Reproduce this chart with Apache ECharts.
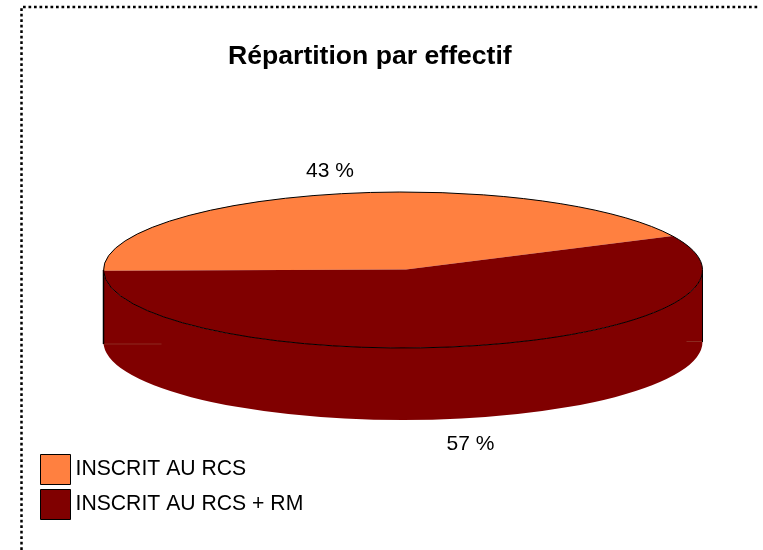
<!DOCTYPE html>
<html>
<head>
<meta charset="utf-8">
<style>html,body{margin:0;padding:0;background:#fff}#c{width:763px;height:550px}</style>
<script src="https://cdn.jsdelivr.net/npm/echarts@6/dist/echarts.min.js"></script>
</head>
<body>
<div id="c"></div>
<script>
const titleText = 'Répartition par effectif';
const categories = ['INSCRIT AU RCS', 'INSCRIT AU RCS + RM'];
const shares = [43, 57];
const colors = ['#FF8040', '#800000'];

// Drawing layout of the tilted pie
const CX = 403, CY = 270, RX = 299.5, RY = 78, DEPTH = 72, START_DEG = 180.6;
const APEX = [406, 269.5];
const LABEL_POS = [[330, 171.5], [470.5, 444.5]];
const FONT = '"Liberation Sans", Arial, sans-serif';
const total = shares.reduce((a, b) => a + b, 0);

const pt = (deg, dy = 0) => {
  const t = deg * Math.PI / 180;
  return [CX + RX * Math.cos(t), CY - RY * Math.sin(t) + dy];
};
// clockwise elliptical arc on screen, from angle a down to angle b
const arcTo = (b, a, dy = 0) => {
  const p = pt(b, dy);
  return `A${RX} ${RY} 0 ${a - b > 180 ? 1 : 0} 1 ${p[0]} ${p[1]}`;
};

function renderSlice(idx) {
  return function (params, api) {
    const value = api.value(0);
    let before = 0;
    for (let i = 0; i < idx; i++) before += shares[i];
    const a0 = START_DEG - before / total * 360;
    const a1 = a0 - value / total * 360;
    const fill = colors[idx];
    const children = [];

    // front wall: spanned by the slice that covers the front half of the rim
    if (a0 < 180 && a1 < 0) {
      const wallStart = Math.min(a0, 0), wallEnd = -180;
      const s = pt(wallStart), e = pt(wallEnd);
      const d = `M${s[0]} ${s[1]}` + arcTo(wallEnd, wallStart) +
        `L${e[0]} ${e[1] + DEPTH + 2}L${e[0]} ${e[1] + DEPTH}` +
        `A${RX} ${RY} 0 0 0 ${s[0]} ${s[1] + DEPTH}Z`;
      children.push({ type: 'path', shape: { pathData: d }, style: { fill: fill, stroke: null } });
      // faint seams where the wall meets its lower curve
      children.push({
        type: 'line',
        shape: { x1: e[0], y1: e[1] + DEPTH + 2, x2: e[0] + 58, y2: e[1] + DEPTH + 2 },
        style: { stroke: '#8C2A20', lineWidth: 1 }
      });
      children.push({
        type: 'line',
        shape: { x1: s[0] - 16, y1: s[1] + DEPTH - 0.5, x2: s[0], y2: s[1] + DEPTH - 0.5 },
        style: { stroke: '#8C2A20', lineWidth: 1 }
      });
      children.push({
        type: 'line',
        shape: { x1: e[0], y1: e[1], x2: e[0], y2: e[1] + DEPTH + 2 },
        style: { stroke: '#000', lineWidth: 1.5 }
      });
      children.push({
        type: 'line',
        shape: { x1: s[0], y1: s[1], x2: s[0], y2: s[1] + DEPTH },
        style: { stroke: '#000', lineWidth: 1 }
      });
    }

    // top face
    const s = pt(a0);
    children.push({
      type: 'path',
      shape: { pathData: `M${APEX[0]} ${APEX[1]}L${s[0]} ${s[1]}` + arcTo(a1, a0) + 'Z' },
      style: { fill: fill, stroke: null }
    });
    // rim
    children.push({
      type: 'path',
      shape: { pathData: `M${s[0]} ${s[1]}` + arcTo(a1, a0) },
      style: { fill: null, stroke: '#000', lineWidth: 1 }
    });
    // value label
    children.push({
      type: 'text',
      style: {
        x: LABEL_POS[idx][0], y: LABEL_POS[idx][1],
        text: value + ' %', fill: '#000',
        font: '21px ' + FONT, textAlign: 'center', textVerticalAlign: 'middle'
      }
    });
    return { type: 'group', children: children };
  };
}

const chart = echarts.init(document.getElementById('c'), null, { renderer: 'canvas' });
chart.setOption({
  animation: false,
  backgroundColor: '#fff',
  title: {
    text: titleText, left: 228, top: 43, padding: 0,
    textStyle: { fontFamily: FONT, fontSize: 26.6, fontWeight: 'bold', color: '#000' }
  },
  legend: {
    orient: 'vertical', left: 40, top: 454, padding: 0,
    itemWidth: 30, itemHeight: 30, itemGap: 4,
    icon: 'rect',
    data: categories,
    selectedMode: false,
    itemStyle: { borderColor: '#000', borderWidth: 1, borderJoin: 'miter' },
    textStyle: { fontFamily: FONT, fontSize: 21.2, color: '#000', padding: [0, 0, 0, 0] }
  },
  graphic: [{
    type: 'polyline', silent: true,
    shape: { points: [[21.5, 550], [21.5, 7], [758, 7]] },
    style: { stroke: '#000', lineWidth: 2.5, lineDash: [2.7, 2.8], fill: null }
  }],
  series: categories.map((name, i) => ({
    type: 'custom',
    name: name,
    coordinateSystem: 'none',
    z: i,
    itemStyle: { color: colors[i] },
    renderItem: renderSlice(i),
    data: [[shares[i]]]
  }))
});
</script>
</body>
</html>
